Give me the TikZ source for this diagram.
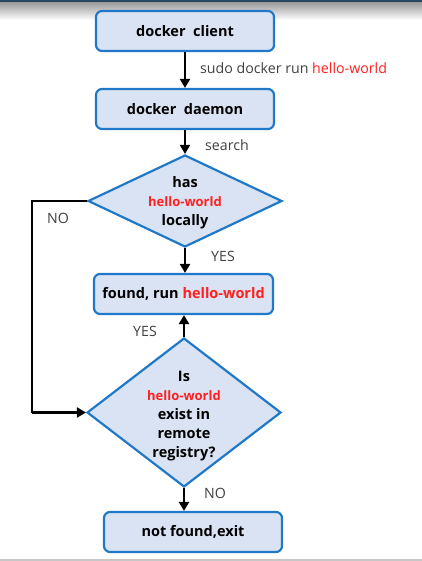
\documentclass[tikz,border=0pt]{standalone}
\usepackage{fontspec}
\setmainfont{Open Sans}
\usetikzlibrary{shapes.geometric,arrows.meta}
\definecolor{boxblue}{HTML}{1F78C8}
\definecolor{boxfill}{HTML}{DAE3F3}
\definecolor{hwred}{HTML}{FF2020}
\definecolor{lblgray}{HTML}{404040}
\definecolor{topbar}{HTML}{2C4660}
\tikzset{
  box/.style={draw=boxblue, line width=2.2pt, fill=boxfill, rounded corners=6pt,
    minimum height=40pt, inner sep=0pt, font=\bfseries\fontsize{14.5}{17}\selectfont},
  dia/.style={draw=boxblue, line width=2.2pt, fill=boxfill, diamond, inner sep=0pt},
  diatext/.style={align=center, font=\bfseries\fontsize{14.5}{19}\selectfont},
  lbl/.style={text=lblgray, font=\fontsize{14.2}{16}\selectfont, inner sep=0pt},
  conn/.style={line width=2.6pt, -{Triangle[length=9pt,width=10pt]}},
}
\newcommand{\hw}{\textcolor{hwred}{hello-world}}
\begin{document}
\begin{tikzpicture}[x=1pt,y=-1pt]
\useasboundingbox (0,0) rectangle (422,561);
% top bar and shadow
\shade[top color=black!40, bottom color=white] (0,2) rectangle (422,20);
\fill[topbar] (0,0) rectangle (422,2.2);
\fill[black!22] (0,558.5) rectangle (422,561);

\node[box, minimum width=178pt] (c1) at (185,31) {docker\ \ client};
\node[box, minimum width=178pt] (c2) at (185,109) {docker\ \ daemon};
\node[dia, minimum width=194pt, minimum height=92pt] (d1) at (185,201) {};
\node[diatext] (d1t) at ([yshift=-2pt]d1.center) {has\\{\fontsize{13}{15}\selectfont\hw}\\locally};
\node[box, minimum width=179pt] (f) at (183.5,294) {found, run \hw};
\node[dia, minimum width=194pt, minimum height=149pt] (d2) at (184,412.5) {};
\node[diatext] (d2t) at ([yshift=-4pt]d2.center) {Is\\{\fontsize{13}{15}\selectfont\hw}\\exist in\\remote\\registry?};
\node[box, minimum width=178pt] (e) at (193,532) {not found,exit};

\draw[conn] (c1.south) -- (c2.north);
\draw[conn] (c2.south) -- (d1.north);
\draw[conn] (d1.south) -- (d1.south |- f.north);
\draw[conn] (d2.north) -- (d2.north |- f.south);
\draw[conn] (d2.south) -- (d2.south |- e.north);
\coordinate (nw) at (32,201);
\coordinate (sw) at (32,412.5);
\draw[line width=2.8pt] (d1.west) -- (nw) -- (sw);
\draw[line width=2.8pt, -{Triangle[length=9pt,width=10pt]}] (sw) -- (d2.west);

\node[lbl, anchor=west] (l1) at (200,68) {sudo docker run \hw};
\node[lbl, anchor=west] (l2) at (205,145) {search};
\node[lbl, anchor=west] (l3) at (211,256) {YES};
\node[lbl, anchor=west] (l4) at (133,331) {YES};
\node[lbl, anchor=west] (l5) at (47,218) {NO};
\node[lbl, anchor=west] (l6) at (204,493) {NO};
\end{tikzpicture}
\end{document}
